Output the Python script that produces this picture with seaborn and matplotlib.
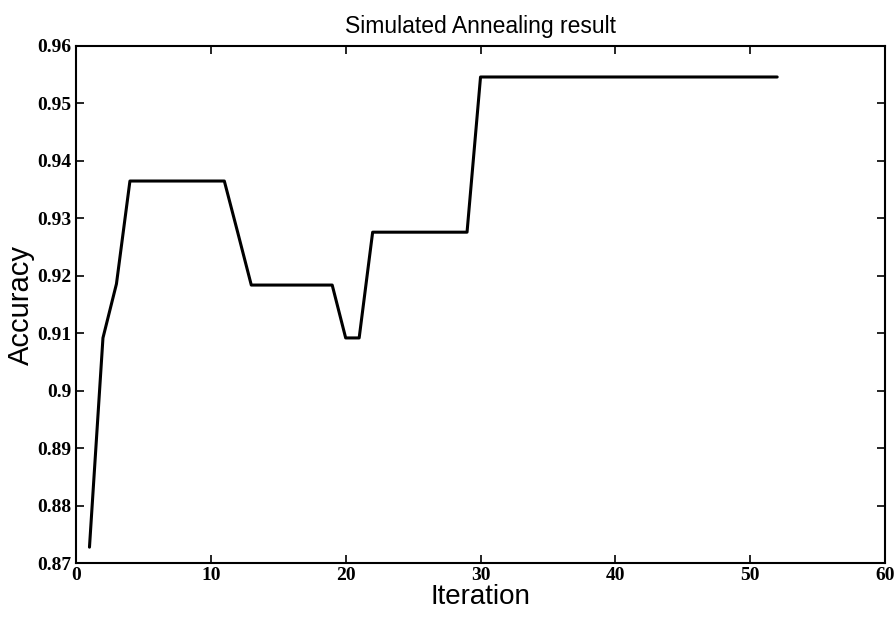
import numpy as np
import pandas as pd
import matplotlib
matplotlib.use("Agg")
import matplotlib.pyplot as plt
import seaborn as sns

# === Data ===
iterations = list(range(1, 53))
accuracy = ([0.8728, 0.9092, 0.9186]
            + [0.9365] * 8            # 4..11
            + [0.9275]                # 12
            + [0.9184] * 7            # 13..19
            + [0.9092, 0.9092]        # 20, 21
            + [0.9276] * 8            # 22..29
            + [0.9546] * 23)          # 30..52

df = pd.DataFrame({"Iteration": iterations, "Accuracy": accuracy})

sns.set_style("ticks")
plt.rcParams["font.family"] = ["Liberation Sans", "DejaVu Sans"]
plt.rcParams["text.color"] = "black"
plt.rcParams["axes.labelcolor"] = "black"
plt.rcParams["xtick.color"] = "black"
plt.rcParams["ytick.color"] = "black"

fig = plt.figure(figsize=(8.94, 6.21), dpi=100)
ax = fig.add_axes([0.085, 0.093, 0.905, 0.833])

sns.lineplot(data=df, x="Iteration", y="Accuracy", color="black", linewidth=2.2, ax=ax)

ax.set_xlim(0, 60)
ax.set_ylim(0.87, 0.96)
ax.set_xticks([0, 10, 20, 30, 40, 50, 60])
ax.set_yticks(np.round(np.arange(0.87, 0.9601, 0.01), 2))
ax.set_yticklabels(["0.87", "0.88", "0.89", "0.9", "0.91", "0.92", "0.93", "0.94", "0.95", "0.96"])

for lab in ax.get_xticklabels() + ax.get_yticklabels():
    lab.set_fontfamily(["Liberation Serif", "DejaVu Serif"])
    lab.set_fontsize(14)
    lab.set_fontweight("bold")

ax.tick_params(direction="in", top=True, right=True, length=6, width=1.2, pad=3)
for s in ax.spines.values():
    s.set_linewidth(1.5)
    s.set_color("black")

ax.set_xlabel("Iteration", fontsize=20, labelpad=0)
ax.set_ylabel("Accuracy", fontsize=21, labelpad=2)
ax.set_title("Simulated Annealing result", fontsize=16.5, pad=9)

fig.savefig("out.png", dpi=100)
